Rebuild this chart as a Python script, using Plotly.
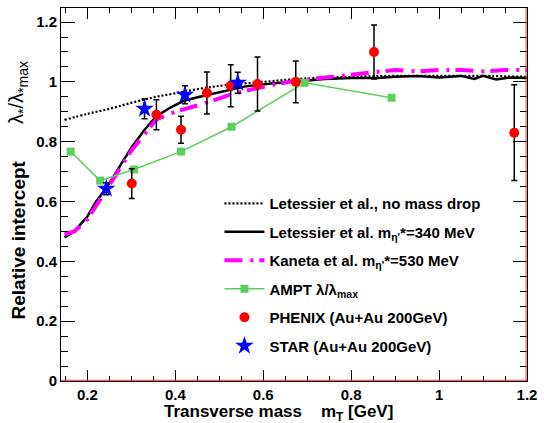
import plotly.graph_objects as go

# ---- data ----
nodrop_x = [0.148, 0.2, 0.25, 0.3, 0.35, 0.4, 0.46, 0.52, 0.6, 0.68, 0.8, 0.9, 1.0, 1.1, 1.2]
nodrop_y = [0.873, 0.893, 0.91, 0.93, 0.948, 0.962, 0.978, 0.99, 1.0, 1.01, 1.017, 1.02, 1.02, 1.02, 1.017]

let340_x = [0.148, 0.17, 0.2, 0.22, 0.243, 0.27, 0.30, 0.33, 0.357, 0.39, 0.42, 0.46, 0.5, 0.56, 0.62,
            0.68, 0.74, 0.8, 0.86, 0.9, 0.95, 1.0, 1.05, 1.08, 1.1, 1.13, 1.16, 1.2]
let340_y = [0.48, 0.50, 0.55, 0.60, 0.645, 0.71, 0.78, 0.84, 0.885, 0.915, 0.937, 0.952, 0.965, 0.985, 0.995,
            1.003, 1.01, 1.013, 1.013, 1.017, 1.02, 1.015, 1.02, 1.01, 1.02, 1.008, 1.015, 1.013]

kan530_x = [0.148, 0.17, 0.2, 0.243, 0.3, 0.357, 0.4, 0.46, 0.52, 0.56, 0.62, 0.68, 0.74, 0.8, 0.85,
            0.9, 0.95, 1.0, 1.05, 1.1, 1.15, 1.2]
kan530_y = [0.49, 0.50, 0.54, 0.64, 0.77, 0.875, 0.9, 0.925, 0.955, 0.97, 0.99, 1.005, 1.015, 1.025, 1.03,
            1.04, 1.035, 1.04, 1.04, 1.035, 1.04, 1.04]

ampt_x = [0.162, 0.229, 0.306, 0.413, 0.528, 0.694, 0.892]
ampt_y = [0.767, 0.67, 0.707, 0.767, 0.85, 0.997, 0.947]

phenix_x = [0.301, 0.357, 0.413, 0.472, 0.526, 0.587, 0.674, 0.852, 1.171]
phenix_y = [0.66, 0.89, 0.84, 0.963, 0.987, 0.993, 1.0, 1.10, 0.83]
phenix_err = [0.05, 0.05, 0.045, 0.07, 0.07, 0.09, 0.07, 0.09, 0.16]

star_x = [0.243, 0.330, 0.422, 0.542]
star_y = [0.643, 0.91, 0.957, 0.997]
star_err = [0.02, 0.033, 0.03, 0.035]

x_tickvals = [0.2, 0.4, 0.6, 0.8, 1.0, 1.2]
x_ticktext = ["0.2", "0.4", "0.6", "0.8", "1", "1.2"]
y_tickvals = [0, 0.2, 0.4, 0.6, 0.8, 1.0, 1.2]
y_ticktext = ["0", "0.2", "0.4", "0.6", "0.8", "1", "1.2"]

FONT = "Liberation Sans, Arial, sans-serif"

fig = go.Figure()
fig.add_trace(go.Scatter(x=nodrop_x, y=nodrop_y, mode="lines", line_shape="spline",
                         name="Letessier et al., no mass drop", legendgroup="g1",
                         line=dict(color="black", width=2.2, dash="2px,2px")))
fig.add_trace(go.Scatter(x=let340_x, y=let340_y, mode="lines",
                         name="Letessier et al. m<sub>η'</sub>*=340 MeV", legendgroup="g2",
                         line=dict(color="black", width=2.5)))
fig.add_trace(go.Scatter(x=kan530_x, y=kan530_y, mode="lines",
                         name="Kaneta et al. m<sub>η'</sub>*=530 MeV", legendgroup="g3",
                         line=dict(color="#ff00ff", width=4, dash="18px,8px,3px,6px")))
fig.add_trace(go.Scatter(x=ampt_x, y=ampt_y, mode="lines+markers",
                         name="AMPT λ/λ<sub>max</sub>", legendgroup="g4",
                         line=dict(color="#5cd05c", width=1.5),
                         marker=dict(symbol="square", size=8, color="#5cd05c")))
fig.add_trace(go.Scatter(x=phenix_x, y=phenix_y, mode="markers",
                         name="PHENIX (Au+Au 200GeV)", legendgroup="g5",
                         marker=dict(symbol="circle", size=10, color="#ff0000"),
                         error_y=dict(type="data", array=phenix_err, color="black", thickness=1.5, width=3)))
fig.add_trace(go.Scatter(x=star_x, y=star_y, mode="markers",
                         name="STAR (Au+Au 200GeV)", legendgroup="g6",
                         marker=dict(symbol="star", size=14, color="#0000ff"),
                         error_y=dict(type="data", array=star_err, color="black", thickness=1.5, width=3)))

fig.update_layout(
    width=544, height=423,
    margin=dict(l=61, r=11, t=7, b=42),
    paper_bgcolor="white", plot_bgcolor="white",
    font=dict(family=FONT, color="black"),
    showlegend=True,
    legend=dict(x=0.34, y=0.52, xanchor="left", yanchor="top",
                bgcolor="rgba(0,0,0,0)", borderwidth=0,
                font=dict(size=15, family=FONT, weight="bold"),
                traceorder="grouped", tracegroupgap=6, itemwidth=40),
    xaxis=dict(range=[0.14, 1.2], tickmode="array", tickvals=x_tickvals, ticktext=x_ticktext,
               ticks="inside", ticklen=11, tickwidth=1, tickcolor="black",
               minor=dict(dtick=0.05, tick0=0, ticks="inside", ticklen=5, tickcolor="black"),
               showline=True, linecolor="black", linewidth=1, mirror="allticks",
               showgrid=False, zeroline=False,
               tickfont=dict(size=15, family=FONT, weight="bold")),
    yaxis=dict(range=[0, 1.247], tickmode="array", tickvals=y_tickvals, ticktext=y_ticktext,
               ticks="inside", ticklen=14, tickwidth=1, tickcolor="black",
               minor=dict(dtick=0.05, tick0=0, ticks="inside", ticklen=7, tickcolor="black"),
               showline=True, linecolor="black", linewidth=1, mirror="allticks",
               showgrid=False, zeroline=False,
               tickfont=dict(size=15, family=FONT, weight="bold")),
)

# red frame lines (bottom and right) as in the reference
fig.add_shape(type="line", xref="paper", yref="paper", x0=0, x1=1, y0=0.002, y1=0.002,
              line=dict(color="#ff3030", width=1))
fig.add_shape(type="line", xref="paper", yref="paper", x0=0.998, x1=0.998, y0=0, y1=1,
              line=dict(color="#ff3030", width=1))

# axis titles
fig.add_annotation(text="Transverse mass    m<sub>T</sub> [GeV]", xref="paper", yref="paper",
                   x=(163 - 61) / 472, y=-0.05, xanchor="left", yanchor="top", showarrow=False,
                   font=dict(size=17, family=FONT, weight="bold"))
fig.add_annotation(text="Relative intercept", xref="paper", yref="paper",
                   x=-0.092, y=(381 - 240) / 374, xanchor="center", yanchor="middle", showarrow=False,
                   textangle=-90, font=dict(size=19, family=FONT, weight="bold"))
fig.add_annotation(text="λ<sub>*</sub>/λ<sub>*max</sub>", xref="paper", yref="paper",
                   x=-0.092, y=(381 - 92) / 374, xanchor="center", yanchor="middle", showarrow=False,
                   textangle=-90, font=dict(size=20, family=FONT))

fig.write_html("out.html", config={"displayModeBar": False},
               post_script="document.body.style.margin='0px';")
